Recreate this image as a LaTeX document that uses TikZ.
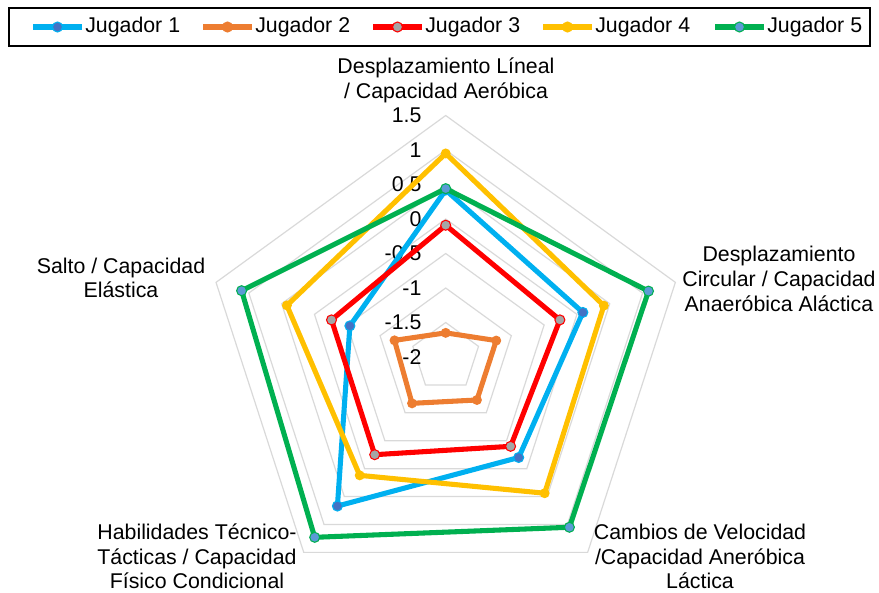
\documentclass[tikz,border=0pt]{standalone}
\usepackage{fontspec}
\setmainfont{Liberation Sans}
\usepackage{xcolor}
\usetikzlibrary{positioning,calc}

\definecolor{gridgray}{HTML}{D9D9D9}
\definecolor{jugUno}{HTML}{00B0F0}
\definecolor{jugUnoMk}{HTML}{4472C4}
\definecolor{jugDos}{HTML}{ED7D31}
\definecolor{jugTres}{HTML}{FF0000}
\definecolor{jugTresMk}{HTML}{A5A5A5}
\definecolor{jugCuatro}{HTML}{FFC000}
\definecolor{jugCinco}{HTML}{00B050}
\definecolor{jugCincoMk}{HTML}{5B9BD5}

\begin{document}
\begin{tikzpicture}[x=0.75pt,y=0.75pt,every node/.style={font=\fontsize{16}{18.5}\selectfont,inner sep=0pt,align=center},
  ring/.style={draw=gridgray,line width=0.9pt},
  serie/.style={line width=3.8pt,line join=round},
  mk/.style={circle,minimum size=7.5pt,line width=0.8pt}]
\useasboundingbox (0,0) rectangle (879,-593);
\coordinate (O) at (445.7,-357);

% rejilla
\foreach \k in {1,...,7}
  \draw[ring] ($(O)+(90:34.5*\k)$) -- ($(O)+(18:34.5*\k)$) -- ($(O)+(-54:34.5*\k)$)
     -- ($(O)+(-126:34.5*\k)$) -- ($(O)+(162:34.5*\k)$) -- cycle;

% escala
\foreach \v [count=\k from 0] in {-2,-1.5,-1,-0.5,0,0.5,1,1.5}
  \node[anchor=east] (esc\k) at ($(O)+(-24,34.5*\k)$) {\v};

% ejes
\node (lineal) at (446,-80.5) {Desplazamiento Líneal\\/ Capacidad Aeróbica};
\node (circular) at (779,-279) {Desplazamiento\\Circular / Capacidad\\Anaeróbica Aláctica};
\node (cambios) at (700,-556.5) {Cambios de Velocidad\\/Capacidad Aneróbica\\Láctica};
\node (habil) at (197,-556.5) {Habilidades Técnico-\\Tácticas / Capacidad\\Físico Condicional};
\node (salto) at (121,-278) {Salto / Capacidad\\Elástica};

% datos
\foreach \j/\a/\b/\c/\d/\e in {1/0.42/0.09/-0.20/0.67/-0.54, 2/-1.65/-1.23/-1.23/-1.17/-1.22,
    3/-0.09/-0.26/-0.40/-0.25/-0.26, 4/0.95/0.41/0.44/0.12/0.42, 5/0.44/1.09/1.05/1.23/1.11}{
  \coordinate (p\j-1) at ($(O)+(90:69*\a+138)$);
  \coordinate (p\j-2) at ($(O)+(18:69*\b+138)$);
  \coordinate (p\j-3) at ($(O)+(-54:69*\c+138)$);
  \coordinate (p\j-4) at ($(O)+(-126:69*\d+138)$);
  \coordinate (p\j-5) at ($(O)+(162:69*\e+138)$);
}
\draw[serie,jugUno] (p1-1) -- (p1-2) -- (p1-3) -- (p1-4) -- (p1-5) -- cycle;
\foreach \i in {1,...,5} \node[mk,fill=jugUnoMk,draw=jugUno] at (p1-\i) {};
\draw[serie,jugDos] (p2-1) -- (p2-2) -- (p2-3) -- (p2-4) -- (p2-5) -- cycle;
\foreach \i in {1,...,5} \node[mk,fill=jugDos] at (p2-\i) {};
\draw[serie,jugTres] (p3-1) -- (p3-2) -- (p3-3) -- (p3-4) -- (p3-5) -- cycle;
\foreach \i in {1,...,5} \node[mk,fill=jugTresMk,draw=jugTres] at (p3-\i) {};
\draw[serie,jugCuatro] (p4-1) -- (p4-2) -- (p4-3) -- (p4-4) -- (p4-5) -- cycle;
\foreach \i in {1,...,5} \node[mk,fill=jugCuatro] at (p4-\i) {};
\draw[serie,jugCinco] (p5-1) -- (p5-2) -- (p5-3) -- (p5-4) -- (p5-5) -- cycle;
\foreach \i in {1,...,5} \node[mk,fill=jugCincoMk,draw=jugCinco] at (p5-\i) {};

% leyenda
\node[draw=black,line width=1.5pt,minimum width=646pt,minimum height=28pt] (leyenda) at (439.5,-27) {};
\foreach \j/\x/\lc/\fc in {1/33/jugUno/jugUnoMk, 2/203/jugDos/jugDos, 3/373/jugTres/jugTresMk,
    4/543/jugCuatro/jugCuatro, 5/715/jugCinco/jugCincoMk}{
  \coordinate (l\j a) at (\x,-27);
  \coordinate (l\j b) at (\x+49,-27);
  \draw[serie,\lc] (l\j a) -- (l\j b);
  \node[mk,fill=\fc,draw=\lc] at ($(l\j a)!0.5!(l\j b)$) {};
  \node[anchor=west] (jug\j) at ($(l\j b)+(3,0)$) {Jugador \j};
}
\end{tikzpicture}
\end{document}
